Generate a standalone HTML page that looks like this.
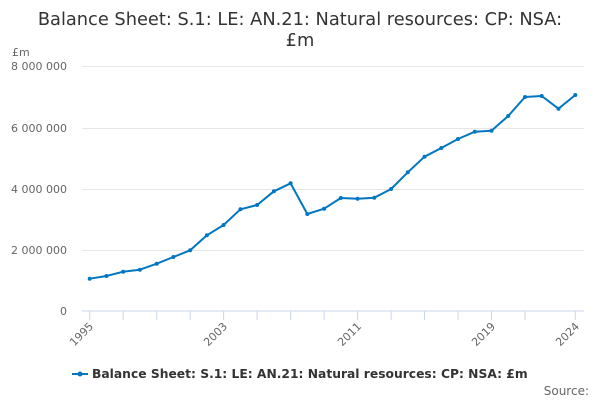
<!DOCTYPE html>
<html><head><meta charset="utf-8"><style>
body{margin:0;background:#fff;width:600px;height:400px;overflow:hidden}
svg{font-family:"DejaVu Sans","Liberation Sans",sans-serif}
</style></head><body>
<svg width="600" height="400" viewBox="0 0 600 400">
<text x="300" y="25" text-anchor="middle" font-size="17.8" fill="#333">Balance Sheet: S.1: LE: AN.21: Natural resources: CP: NSA:</text>
<text x="300" y="46" text-anchor="middle" font-size="17.8" fill="#333">£m</text>
<text x="12" y="56" font-size="11" fill="#666">£m</text>
<g stroke="#e6e6e6" stroke-width="1">
<line x1="82" x2="584" y1="66.5" y2="66.5"/>
<line x1="82" x2="584" y1="128.5" y2="128.5"/>
<line x1="82" x2="584" y1="189.5" y2="189.5"/>
<line x1="82" x2="584" y1="250.5" y2="250.5"/>
</g>
<line x1="82" x2="584" y1="311" y2="311" stroke="#ccd6eb"/>
<g stroke="#ccd6eb">
<line x1="89.7" x2="89.7" y1="311" y2="320"/><line x1="123.2" x2="123.2" y1="311" y2="320"/><line x1="156.7" x2="156.7" y1="311" y2="320"/><line x1="190.2" x2="190.2" y1="311" y2="320"/><line x1="223.6" x2="223.6" y1="311" y2="320"/><line x1="257.1" x2="257.1" y1="311" y2="320"/><line x1="290.6" x2="290.6" y1="311" y2="320"/><line x1="324.1" x2="324.1" y1="311" y2="320"/><line x1="357.6" x2="357.6" y1="311" y2="320"/><line x1="391.1" x2="391.1" y1="311" y2="320"/><line x1="424.5" x2="424.5" y1="311" y2="320"/><line x1="458" x2="458" y1="311" y2="320"/><line x1="491.5" x2="491.5" y1="311" y2="320"/><line x1="525" x2="525" y1="311" y2="320"/><line x1="575.3" x2="575.3" y1="311" y2="320"/>
</g>
<g font-size="11" fill="#666" text-anchor="end">
<text x="67" y="70">8 000 000</text>
<text x="67" y="132">6 000 000</text>
<text x="67" y="193">4 000 000</text>
<text x="67" y="254">2 000 000</text>
<text x="67" y="315">0</text>
</g>
<g font-size="11" fill="#666" text-anchor="end">
<text transform="translate(94,327) rotate(-45)">1995</text>
<text transform="translate(228,327) rotate(-45)">2003</text>
<text transform="translate(362,327) rotate(-45)">2011</text>
<text transform="translate(496,327) rotate(-45)">2019</text>
<text transform="translate(580,327) rotate(-45)">2024</text>
</g>
<polyline fill="none" stroke="#0077c0" stroke-width="2" stroke-linejoin="round" points="89.7,278.7 106.4,276 123.2,271.7 139.9,269.7 156.7,263.7 173.4,257 190.2,250.3 206.9,235.3 223.6,225 240.4,209.3 257.1,205 273.9,191.3 290.6,183.3 307.3,214 324.1,208.7 340.8,198 357.6,198.7 374.3,197.7 391.1,189 407.8,172.3 424.5,156.7 441.3,148 458,139 474.8,131.7 491.5,130.7 508.2,116 525,97 541.7,96 558.5,108.7 575.3,95"/>
<g fill="#0077c0">
<circle cx="89.7" cy="278.7" r="2"/><circle cx="106.4" cy="276" r="2"/><circle cx="123.2" cy="271.7" r="2"/><circle cx="139.9" cy="269.7" r="2"/><circle cx="156.7" cy="263.7" r="2"/><circle cx="173.4" cy="257" r="2"/><circle cx="190.2" cy="250.3" r="2"/><circle cx="206.9" cy="235.3" r="2"/><circle cx="223.6" cy="225" r="2"/><circle cx="240.4" cy="209.3" r="2"/><circle cx="257.1" cy="205" r="2"/><circle cx="273.9" cy="191.3" r="2"/><circle cx="290.6" cy="183.3" r="2"/><circle cx="307.3" cy="214" r="2"/><circle cx="324.1" cy="208.7" r="2"/><circle cx="340.8" cy="198" r="2"/><circle cx="357.6" cy="198.7" r="2"/><circle cx="374.3" cy="197.7" r="2"/><circle cx="391.1" cy="189" r="2"/><circle cx="407.8" cy="172.3" r="2"/><circle cx="424.5" cy="156.7" r="2"/><circle cx="441.3" cy="148" r="2"/><circle cx="458" cy="139" r="2"/><circle cx="474.8" cy="131.7" r="2"/><circle cx="491.5" cy="130.7" r="2"/><circle cx="508.2" cy="116" r="2"/><circle cx="525" cy="97" r="2"/><circle cx="541.7" cy="96" r="2"/><circle cx="558.5" cy="108.7" r="2"/><circle cx="575.3" cy="95" r="2"/>
</g>
<line x1="72" x2="88" y1="374" y2="374" stroke="#0077c0" stroke-width="2"/>
<circle cx="80" cy="374" r="2.5" fill="#0077c0"/>
<text x="92" y="378" font-size="12.3" font-weight="bold" fill="#333">Balance Sheet: S.1: LE: AN.21: Natural resources: CP: NSA: £m</text>
<text x="589" y="395" font-size="12" fill="#666" text-anchor="end">Source:</text>
</svg>
</body></html>
